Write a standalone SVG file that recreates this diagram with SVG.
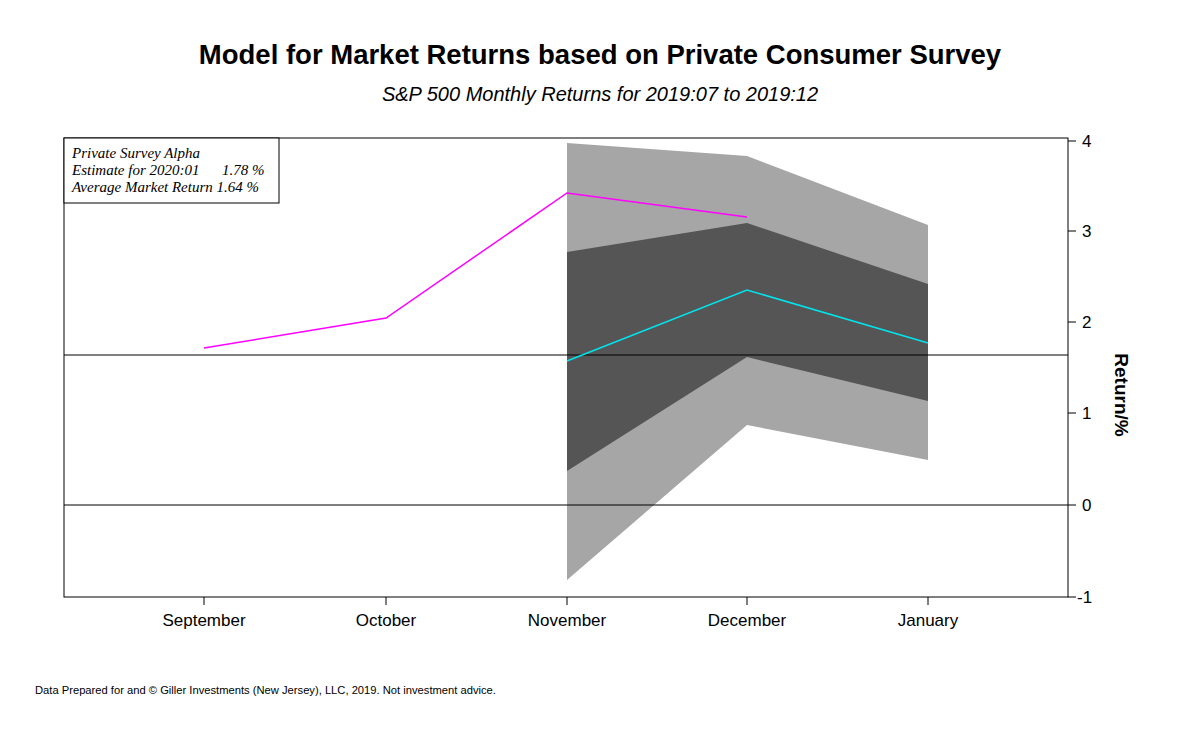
<svg xmlns="http://www.w3.org/2000/svg" width="1200" height="735" viewBox="0 0 1200 735">
<style>
.s{font-family:"Liberation Sans",Arial,sans-serif;fill:#000}
.l{font-family:"Liberation Serif","Times New Roman",serif;font-style:italic;font-size:15px}
.ax{stroke:#000;stroke-width:1;fill:none}
</style>
<rect width="1200" height="735" fill="#fff"/>
<text class="s" x="600" y="64" text-anchor="middle" font-size="27.5" font-weight="bold">Model for Market Returns based on Private Consumer Survey</text>
<text class="s" x="600" y="101" text-anchor="middle" font-size="20" font-style="italic">S&amp;P 500 Monthly Returns for 2019:07 to 2019:12</text>
<g id="bands">
<polygon points="567,143 747,156 928,225 928,460 747,425 567,580" fill="#a6a6a6"/>
<polygon points="567,252 747,223 928,284 928,401 747,357 567,471" fill="#555555"/>
</g>
<g id="lines">
<line class="ax" x1="64" y1="355" x2="1068" y2="355"/>
<line class="ax" x1="64" y1="505" x2="1068" y2="505"/>
<polyline points="204,348 386,318 567,193 747,217" fill="none" stroke="#ff00ff" stroke-width="1.5"/>
<polyline points="567,361 747,290 928,343" fill="none" stroke="#00e5ee" stroke-width="1.5"/>
</g>
<rect class="ax" x="64" y="138" width="1004" height="459"/>
<g id="legend">
<rect x="64" y="138" width="215" height="65" fill="#fff" stroke="#000"/>
<text class="l" x="72" y="158">Private Survey Alpha</text>
<text class="l" x="72" y="175">Estimate for 2020:01</text>
<text class="l" x="222" y="175">1.78 %</text>
<text class="l" x="72" y="192">Average Market Return  1.64 %</text>
</g>
<g id="yaxis" class="s" font-size="17">
<path class="ax" d="M1068,141h8M1068,231h8M1068,322h8M1068,413h8M1068,505h8M1068,597h8"/>
<text x="1082" y="147">4</text><text x="1082" y="237">3</text><text x="1082" y="328">2</text>
<text x="1082" y="419">1</text><text x="1082" y="511">0</text><text x="1077" y="603">-1</text>
<text x="1115" y="395" transform="rotate(90 1115 395)" text-anchor="middle" font-weight="bold" font-size="19">Return/%</text>
</g>
<g id="xaxis" class="s" font-size="17" text-anchor="middle">
<path class="ax" d="M204,597v8M386,597v8M567,597v8M747,597v8M928,597v8"/>
<text x="204" y="626">September</text><text x="386" y="626">October</text><text x="567" y="626">November</text>
<text x="747" y="626">December</text><text x="928" y="626">January</text>
</g>
<text class="s" x="35" y="694" font-size="11.2">Data Prepared for and © Giller Investments (New Jersey), LLC, 2019. Not investment advice.</text>
</svg>
